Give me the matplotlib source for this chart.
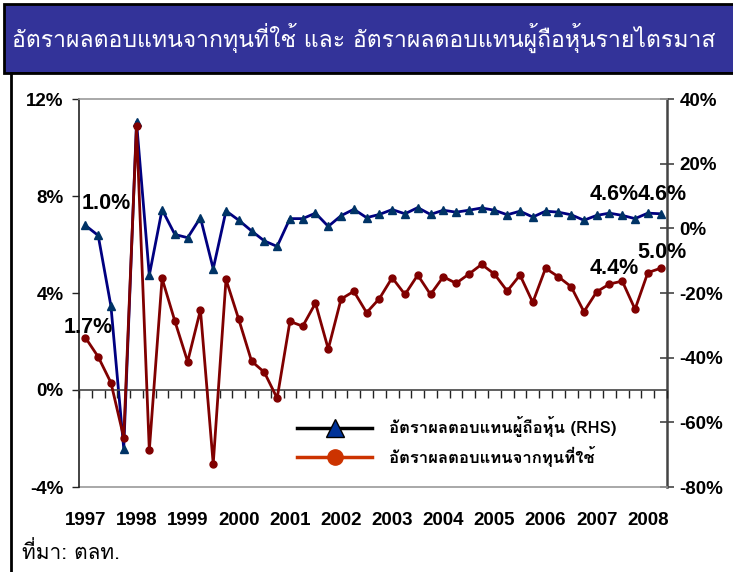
import matplotlib
matplotlib.use("Agg")
import matplotlib.pyplot as plt
from matplotlib import font_manager
from matplotlib.lines import Line2D
from matplotlib.patches import Rectangle
from matplotlib.ticker import FixedLocator, PercentFormatter
import numpy as np

# ---------------- data ----------------
years = ["1997", "1998", "1999", "2000", "2001", "2002", "2003",
         "2004", "2005", "2006", "2007", "2008"]
n_quarters = 46  # 1997Q1 .. 2008Q2

# Return on equity (RHS, %)
roe = [0.9, -2.2, -24.1, -68.1, 32.9, -14.5, 5.8, -1.9,
       -2.9, 3.3, -12.5, 5.4, 2.5, -0.8, -3.9, -5.6,
       3.0, 3.0, 4.7, 0.6, 3.9, 5.9, 3.3, 4.3,
       5.8, 4.5, 6.4, 4.3, 5.6, 5.0, 5.6, 6.3,
       5.6, 4.2, 5.3, 3.5, 5.3, 5.0, 4.2, 2.5,
       4.0, 4.7, 4.0, 3.0, 4.7, 4.5]

# Return on capital employed (LHS, %)
roce = [2.16, 1.37, 0.30, -1.96, 10.87, -2.49, 4.60, 2.84,
        1.17, 3.30, -3.05, 4.56, 2.91, 1.19, 0.73, -0.34,
        2.83, 2.63, 3.58, 1.69, 3.75, 4.07, 3.19, 3.77,
        4.63, 3.94, 4.74, 3.94, 4.67, 4.40, 4.78, 5.18,
        4.78, 4.08, 4.74, 3.61, 5.02, 4.67, 4.26, 3.23,
        4.05, 4.37, 4.49, 3.33, 4.84, 5.02]

left_ticks = [12, 8, 4, 0, -4]
right_ticks = [40, 20, 0, -20, -40, -60, -80]

title = "อัตราผลตอบแทนจากทุนที่ใช้ และ อัตราผลตอบแทนผู้ถือหุ้นรายไตรมาส"
label_roe = "อัตราผลตอบแทนผู้ถือหุ้น (RHS)"
label_roce = "อัตราผลตอบแทนจากทุนที่ใช้"
source = "ที่มา: ตลท."

# annotations: (index, text, offset in px)
ann_roce = [(0, "1.7%", (3, 10)), (42, "4.4%", (-8, 13)), (45, "5.0%", (1, 16))]
ann_roe = [(0, "1.0%", (21, 22)), (41, "4.6%", (5, 19)), (45, "4.6%", (2, 19))]

# ---------------- fonts ----------------
thai_fonts = []
try:
    from fontTools.ttLib import TTFont
    seen = set()
    for f in font_manager.fontManager.ttflist:
        if f.name in seen:
            continue
        try:
            tt = TTFont(f.fname, fontNumber=0, lazy=True)
            cmap = tt.getBestCmap()
            if cmap and 0x0E2D in cmap and 0x0E49 in cmap:
                thai_fonts.append(f.name)
                seen.add(f.name)
        except Exception:
            pass
except Exception:
    pass

def pick(prefs):
    for p in prefs:
        if p in thai_fonts:
            return [p, "Liberation Sans", "DejaVu Sans"]
    return (thai_fonts[:1] or []) + ["Liberation Sans", "DejaVu Sans"]

thai_family = pick(["Loma", "Noto Sans Thai Looped", "Noto Sans Thai"])

plt.rcParams["font.family"] = ["Liberation Sans", "DejaVu Sans"]
plt.rcParams["axes.unicode_minus"] = False

# ---------------- figure ----------------
W, H = 733, 572
fig = plt.figure(figsize=(W / 100, H / 100), dpi=100)
renderer = fig.canvas.get_renderer()

def fx(px):
    return px / W

def fy(py):
    return 1 - py / H

def fit_width(txt, target_px):
    bb = txt.get_window_extent(renderer=renderer)
    if bb.width > 0:
        txt.set_fontsize(txt.get_fontsize() * target_px / bb.width)

# title bar
fig.patches.append(Rectangle((fx(4), fy(73)), fx(740), fy(4) - fy(73),
                             transform=fig.transFigure, facecolor="#333399",
                             edgecolor="black", linewidth=2, zorder=-5))
# white panel frame
fig.patches.append(Rectangle((fx(11), fy(580)), fx(740), fy(73) - fy(580),
                             transform=fig.transFigure, facecolor="white",
                             edgecolor="black", linewidth=2, zorder=-5))
t_title = fig.text(fx(12), fy(38), title, color="white", fontsize=20,
                   family=thai_family, va="center", ha="left")
fit_width(t_title, 703)

ax = fig.add_axes([fx(79), fy(487), fx(667) - fx(79), fy(99) - fy(487)])
ax2 = ax.twinx()
ax2.set_zorder(1)
ax.set_zorder(2)
ax.patch.set_visible(False)
ax2.patch.set_visible(False)

x = np.arange(n_quarters)

ax2.plot(x, roe, color="#000080", lw=2, marker="^", ms=6,
         mfc="#003366", mec="#003366", zorder=3)
ax.plot(x, roce, color="#800000", lw=2, marker="o", ms=5,
        mfc="#800000", mec="#800000", zorder=3)

ax.set_xlim(-0.5, n_quarters - 0.5)
ax.set_ylim(-4, 12)
ax2.set_ylim(-80, 40)

ax.set_yticks(left_ticks)
ax.yaxis.set_major_formatter(PercentFormatter(decimals=0))
ax2.set_yticks(right_ticks)
ax2.yaxis.set_major_formatter(PercentFormatter(decimals=0))

for a in (ax, ax2):
    for s in a.spines.values():
        s.set_visible(False)

ax.spines["left"].set_visible(True)
ax.spines["left"].set_color("#222222")
ax.spines["left"].set_linewidth(1.2)
ax2.spines["right"].set_visible(True)
ax2.spines["right"].set_color("#444444")
ax2.spines["right"].set_linewidth(1.8)
ax.spines["top"].set_visible(True)
ax.spines["top"].set_color("#999999")
ax.spines["top"].set_linewidth(1.2)

# category axis crossing at 0%
ax.spines["bottom"].set_visible(True)
ax.spines["bottom"].set_position(("data", 0))
ax.spines["bottom"].set_color("#444444")
ax.spines["bottom"].set_linewidth(1.2)
ax.xaxis.set_major_locator(FixedLocator(np.arange(n_quarters + 1) - 0.5))
ax.tick_params(axis="x", direction="out", length=6, width=1, color="#222222",
               labelbottom=False)

# year labels at bottom edge
sec = ax.secondary_xaxis("bottom")
sec.set_xticks(np.arange(len(years)) * 4, labels=years)
sec.tick_params(length=0, pad=18, labelsize=13.5)
for lab in sec.get_xticklabels():
    lab.set_fontweight("bold")
sec.spines["bottom"].set_color("#999999")
sec.spines["bottom"].set_linewidth(1.2)

ax.tick_params(axis="y", direction="out", length=5, width=1, color="#222222",
               labelsize=13.5, pad=6)
ax2.tick_params(axis="y", direction="inout", length=10, width=1.2,
                color="#444444", labelsize=13.5, pad=4)
for lab in ax.get_yticklabels() + ax2.get_yticklabels():
    lab.set_fontweight("bold")

# annotations
PT = 0.72
for i, t, (dx, dy) in ann_roce:
    ax.annotate(t, (x[i], roce[i]), xytext=(dx * PT, dy * PT),
                textcoords="offset points", fontsize=15.5, fontweight="bold",
                ha="center", va="center", zorder=5)
for i, t, (dx, dy) in ann_roe:
    ax2.annotate(t, (x[i], roe[i]), xytext=(dx * PT, dy * PT),
                 textcoords="offset points", fontsize=15.5, fontweight="bold",
                 ha="center", va="center", zorder=5)

# legend
handles = [
    Line2D([], [], color="black", lw=2.5, marker="^", ms=13,
           mfc="#003399", mec="black"),
    Line2D([], [], color="#CC3300", lw=2.5, marker="o", ms=11,
           mfc="#CC3300", mec="#CC3300"),
]
leg = ax.legend(handles, [label_roe, label_roce], loc="center left",
                bbox_to_anchor=((297 - 79) / 588, (487 - 441.5) / 388),
                frameon=False, handlelength=4.5, borderpad=0, borderaxespad=0,
                prop={"family": thai_family, "weight": "bold", "size": 12},
                labelspacing=0.5, handletextpad=1.0)

t_src = fig.text(fx(22), fy(552), source, fontsize=15, family=thai_family,
                 va="center", ha="left")
fit_width(t_src, 98)

fig.savefig("out.png", dpi=100)
